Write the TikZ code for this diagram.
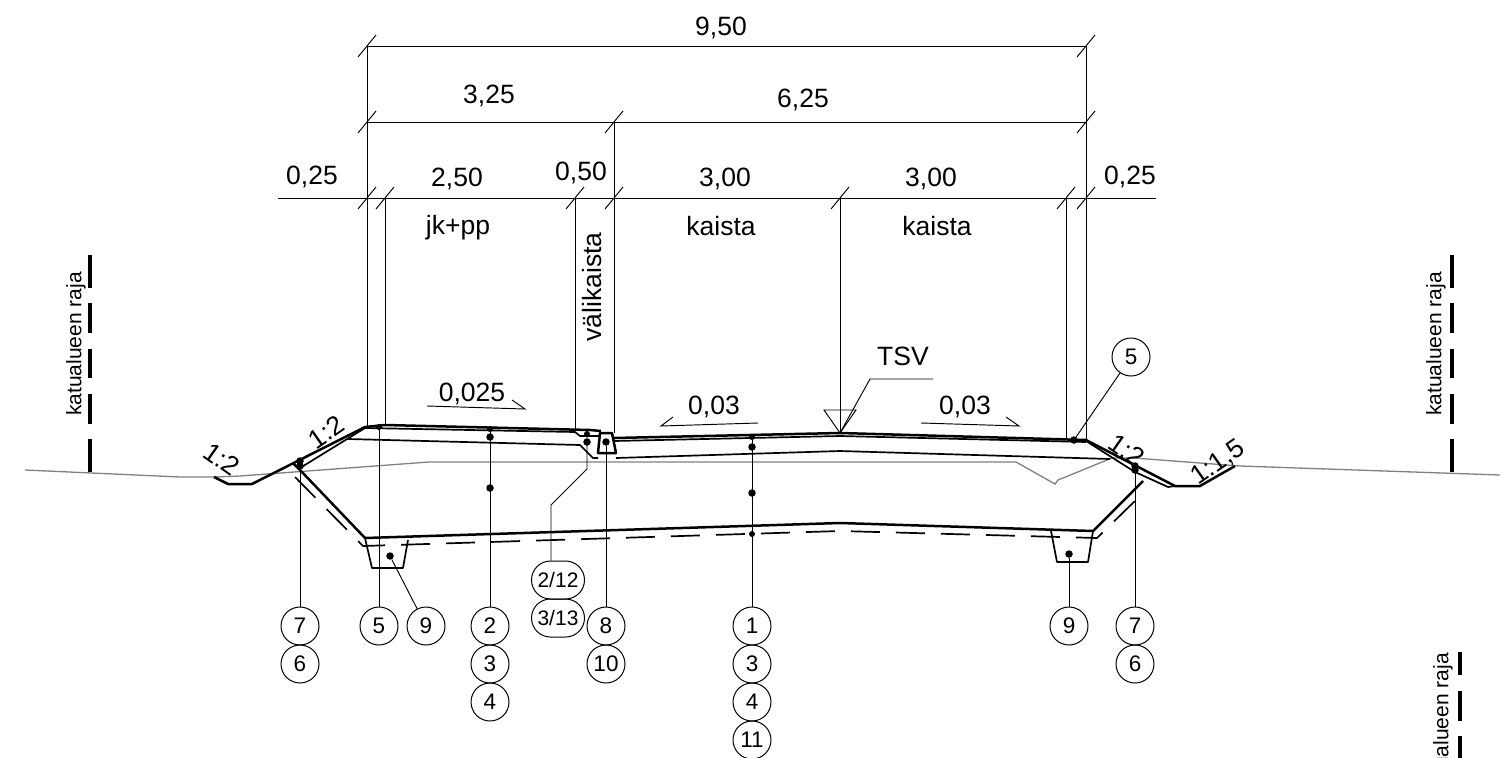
\documentclass[tikz,border=0pt]{standalone}
\usepackage{fontspec}
\setmainfont{Liberation Sans}
\usetikzlibrary{calc, shapes.misc}
\newcommand{\dimtick}[1]{\draw[thinline] (#1) ++(-9,11) -- ++(18,-22);}
\tikzset{
  thinline/.style={line width=0.95pt},
  heavyline/.style={line width=2.5pt, line join=round},
  midline/.style={line width=1.7pt, line join=round},
  groundline/.style={line width=1.3pt, draw=black!50},
  limitline/.style={line width=3.6pt},
  dimtext/.style={font=\fontsize{26.5}{26.5}\selectfont, inner sep=0pt},
  smalltext/.style={font=\fontsize{21}{21}\selectfont, inner sep=0pt},
  partno/.style={circle, draw, line width=1pt, minimum size=38pt, inner sep=0pt, font=\fontsize{22.5}{22.5}\selectfont},
  partpill/.style={rounded rectangle, draw, line width=1pt, minimum width=53pt, minimum height=38pt, inner sep=0pt, font=\fontsize{21}{21}\selectfont},
  dot/.style={circle, fill, minimum size=7.5pt, inner sep=0pt},
  smalldot/.style={circle, fill, minimum size=6pt, inner sep=0pt}
}
\begin{document}
\begin{tikzpicture}[x=1pt, y=-1pt]
  \useasboundingbox (0,0) rectangle (1500,758);
  \clip (0,0) rectangle (1500,758);
  % dimension lines
  \coordinate (t1) at (367,46);
  \coordinate (t2) at (1086,46);
  \coordinate (m1) at (367,122);
  \coordinate (m2) at (614,122);
  \coordinate (m3) at (1086,122);
  \coordinate (d0) at (278,198);
  \coordinate (d1) at (367,198);
  \coordinate (d2) at (385,198);
  \coordinate (d3) at (575,198);
  \coordinate (d4) at (614,198);
  \coordinate (d5) at (840,198);
  \coordinate (d6) at (1066,198);
  \coordinate (d7) at (1086,198);
  \coordinate (d8) at (1156,198);
  \draw[thinline] (t1) -- (t2);
  \draw[thinline] (m1) -- (m3);
  \draw[thinline] (d0) -- (d8);
  \dimtick{t1} \dimtick{t2}
  \dimtick{m1} \dimtick{m2} \dimtick{m3}
  \dimtick{d1} \dimtick{d2} \dimtick{d3} \dimtick{d4}
  \dimtick{d5} \dimtick{d6} \dimtick{d7}
  \coordinate (e1) at (367,427);
  \coordinate (e2) at (385,426);
  \coordinate (e3) at (575,430);
  \coordinate (e4) at (614,433);
  \coordinate (tsv) at (840,433);
  \coordinate (e6) at (1066,439);
  \coordinate (e7) at (1086,440);
  \draw[thinline] (t1) -- (e1);
  \draw[thinline] (d2) -- (e2);
  \draw[thinline] (d3) -- (e3);
  \draw[thinline] (m2) -- (e4);
  \draw[thinline] (d5) -- (tsv);
  \draw[thinline] (d6) -- (e6);
  \draw[thinline] (t2) -- (e7);
  \node[dimtext] (w950) at (721,28) {9,50};
  \node[dimtext] (w325) at (489,96) {3,25};
  \node[dimtext] (w625) at (803,100) {6,25};
  \node[dimtext] (w025a) at (312,177) {0,25};
  \node[dimtext] (w250) at (457,179) {2,50};
  \node[dimtext] (w050) at (581,173) {0,50};
  \node[dimtext] (w300a) at (725,179) {3,00};
  \node[dimtext] (w300b) at (931,179) {3,00};
  \node[dimtext] (w025b) at (1130,177) {0,25};
  \node[dimtext] (jkpp) at (458,228) {jk+pp};
  \node[dimtext] (kaistaa) at (721,226) {kaista};
  \node[dimtext] (kaistab) at (937,226) {kaista};
  \node[dimtext, rotate=90] (valik) at (592,287) {välikaista};
  % ground
  \draw[groundline] (25,470) -- (180,477) -- (214,477) -- (240,476) -- (429,462) -- (1016,462) -- (1055,484) -- (1058,480) -- (1112,458) -- (1134,458) -- (1240,466) -- (1500,475);
  % street limits
  \draw[limitline] (90,255) -- (90,288);
  \draw[limitline] (90,303) -- (90,333);
  \draw[limitline] (90,349) -- (90,378);
  \draw[limitline] (90,394) -- (90,424);
  \draw[limitline] (90,439) -- (90,472);
  \draw[limitline] (1452,255) -- (1452,288);
  \draw[limitline] (1452,303) -- (1452,333);
  \draw[limitline] (1452,349) -- (1452,378);
  \draw[limitline] (1452,394) -- (1452,424);
  \draw[limitline] (1452,439) -- (1452,472);
  \draw[limitline] (1460,652) -- (1460,675);
  \draw[limitline] (1460,691) -- (1460,721);
  \draw[limitline] (1460,736) -- (1460,758);
  \node[smalltext, rotate=90] (rajaa) at (76,344) {katualueen raja};
  \node[smalltext, rotate=90] (rajab) at (1436,344) {katualueen raja};
  \node[smalltext, rotate=90] (rajac) at (1443,725) {katualueen raja};
  % road body
  \draw[heavyline] (214,477) -- (228,484) -- (252,484) -- (365,427) -- (385,425) -- (590,430) -- (601,431);
  \draw[midline] (365,428) -- (575,432) -- (580,436) -- (600,436);
  \draw[midline] (365,428) -- (300,468);
  \draw[midline] (348,439) -- (580,445) -- (593,458) -- (598,458);
  \draw[heavyline] (600,433) -- (612,433) -- (616,453) -- (598,453) -- cycle;
  \draw[heavyline] (614,438) -- (840,433) -- (1086,440);
  \draw[midline] (614,441) -- (840,436) -- (1086,442);
  \draw[midline] (616,458) -- (840,451) -- (1110,459);
  \draw[heavyline] (1086,440) -- (1175,486) -- (1200,486) -- (1235,466);
  \draw[midline] (1086,441) -- (1135,472) -- (1168,487) -- (1175,486);
  \draw[heavyline] (293,463) -- (300,470) -- (365,538) -- (840,523) -- (1093,531) -- (1143,481);
  % subgrade and drains
  \draw[midline, dash pattern=on 29pt off 16pt] (295,477) -- (363,546) -- (840,531) -- (1097,538) -- (1140,496);
  \draw[midline] (365,538) -- (372,568) -- (403,568) -- (408,540);
  \draw[midline] (1051,531) -- (1057,562) -- (1088,562) -- (1093,531);
  % crossfalls
  \node[dimtext] (fa) at (472,394) {0,025};
  \node[dimtext] (fb) at (714,407) {0,03};
  \node[dimtext] (fc) at (965,407) {0,03};
  \draw[thinline] (427,406) -- (525,409) -- (512,400);
  \draw[thinline] (673,417) -- (661,426) -- (758,423);
  \draw[thinline] (921,423) -- (1019,426) -- (1006,417);
  \node[dimtext, rotate=35] (sa) at (326,432) {1:2};
  \node[dimtext, rotate=-35] (sb) at (222,459) {1:2};
  \node[dimtext, rotate=-35] (sc) at (1127,450) {1:2};
  \node[dimtext, rotate=35] (sd) at (1218,463) {1:1,5};
  % grade mark
  \coordinate (tsva) at (824,410);
  \coordinate (tsvb) at (856,410);
  \coordinate (tsvc) at (870,379);
  \coordinate (tsvd) at (933,379);
  \draw[thinline] (tsva) -- (tsvb) -- (tsv) -- cycle;
  \draw[thinline] (tsv) -- (tsvc) -- (tsvd);
  \node[dimtext] (tsvtext) at (903,356) {TSV};
  % part numbers
  \node[partno] (p7a) at (300,626) {7};
  \node[partno] (p6a) at (300,664) {6};
  \node[partno] (p5a) at (379,626) {5};
  \node[partno] (p9a) at (426,626) {9};
  \node[partno] (p2) at (490,626) {2};
  \node[partno] (p3a) at (490,664) {3};
  \node[partno] (p4a) at (490,702) {4};
  \node[partpill] (p212) at (558,580) {2/12};
  \node[partpill] (p313) at (558,618) {3/13};
  \node[partno] (p8) at (606,626) {8};
  \node[partno] (p10) at (606,664) {10};
  \node[partno] (p1) at (752,626) {1};
  \node[partno] (p3b) at (752,664) {3};
  \node[partno] (p4b) at (752,702) {4};
  \node[partno] (p11) at (752,740) {11};
  \node[partno] (p9b) at (1069,626) {9};
  \node[partno] (p7b) at (1135,626) {7};
  \node[partno] (p6b) at (1135,664) {6};
  \node[partno] (p5b) at (1131,357) {5};
  % leaders
  \node[dot] (l7a) at (300,461) {};
  \node[dot] (l7aa) at (300,466) {};
  \node[smalldot] (l5a) at (379,427) {};
  \node[dot] (l9a) at (390,556) {};
  \node[smalldot] (l2a) at (490,429) {};
  \node[dot] (l2b) at (490,437) {};
  \node[dot] (l2c) at (490,488) {};
  \node[smalldot] (l212a) at (587,434) {};
  \node[dot] (l212b) at (587,442) {};
  \coordinate (l212c) at (587,469);
  \coordinate (l212d) at (551,505);
  \coordinate (l212e) at (l212d |- p212.north);
  \node[dot] (l8) at (606,442) {};
  \node[smalldot] (l1a) at (752,437) {};
  \node[dot] (l1b) at (752,447) {};
  \node[dot] (l1c) at (752,493) {};
  \node[smalldot] (l1d) at (752,534) {};
  \node[dot] (l9b) at (1069,554) {};
  \node[dot] (l7b) at (1135,466) {};
  \node[dot] (l7bb) at (1135,470) {};
  \node[dot] (l5b) at (1074,440) {};
  \draw[thinline] (l7a) -- (p7a);
  \draw[thinline] (l5a) -- (p5a);
  \draw[thinline] (l9a) -- (p9a);
  \draw[thinline] (l2a) -- (p2);
  \draw[thinline] (l212a) -- (l212c) -- (l212d) -- (l212e);
  \draw[thinline] (l8) -- (p8);
  \draw[thinline] (l1a) -- (p1);
  \draw[thinline] (l9b) -- (p9b);
  \draw[thinline] (l7b) -- (p7b);
  \draw[thinline] (l5b) -- (p5b);
\end{tikzpicture}
\end{document}
